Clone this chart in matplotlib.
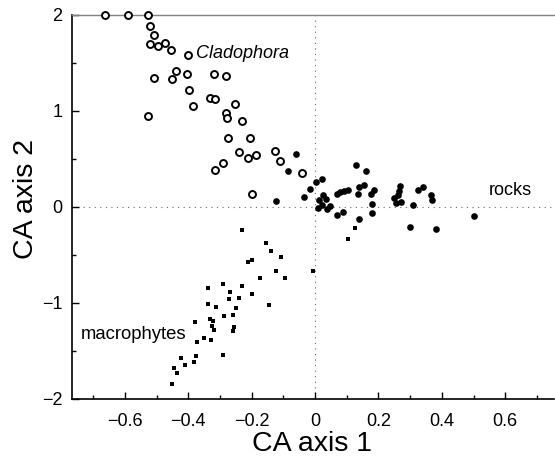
import numpy as np
import matplotlib
matplotlib.use("Agg")
from matplotlib import pyplot as plt
from matplotlib.ticker import MultipleLocator

plt.rcParams['font.family'] = ['Liberation Sans', 'DejaVu Sans']

# Cladophora sites (open circles)
clad_x = [-0.662, -0.59, -0.526, -0.521, -0.508, -0.521, -0.497, -0.472, -0.453, -0.401,
          -0.507, -0.45, -0.44, -0.404, -0.398, -0.384, -0.32, -0.282, -0.331, -0.316,
          -0.527, -0.282, -0.279, -0.253, -0.231, -0.274, -0.205, -0.241, -0.213, -0.185,
          -0.292, -0.317, -0.125, -0.112, -0.04, -0.199]
clad_y = [2.0, 2.0, 2.0, 1.88, 1.79, 1.70, 1.68, 1.71, 1.64, 1.585,
          1.34, 1.33, 1.42, 1.38, 1.22, 1.05, 1.39, 1.36, 1.13, 1.12,
          0.95, 0.98, 0.93, 1.07, 0.90, 0.72, 0.72, 0.57, 0.51, 0.54,
          0.46, 0.39, 0.58, 0.48, 0.355, 0.14]

# rock sites (filled circles)
rock_x = [-0.059, -0.085, -0.122, 0.13, 0.16, 0.003, 0.021, -0.016, -0.034,
          0.026, 0.013, 0.034, 0.047, 0.021, 0.01, 0.038,
          0.068, 0.08, 0.09, 0.104, 0.068, 0.088,
          0.14, 0.156, 0.135, 0.1875, 0.177, 0.18, 0.18, 0.14,
          0.268, 0.266, 0.263, 0.25, 0.255, 0.271,
          0.31, 0.326, 0.341, 0.367, 0.368, 0.299, 0.383, 0.50]
rock_y = [0.556, 0.37, 0.06, 0.435, 0.376, 0.262, 0.287, 0.183, 0.107,
          0.124, 0.07, 0.08, 0.013, 0.02, -0.007, -0.024,
          0.14, 0.16, 0.17, 0.18, -0.083, -0.049,
          0.21, 0.228, 0.14, 0.176, 0.14, 0.031, -0.059, -0.128,
          0.218, 0.169, 0.124, 0.09, 0.045, 0.055,
          0.021, 0.176, 0.204, 0.124, 0.07, -0.21, -0.231, -0.093]

# macrophyte sites (small squares)
macro_x = [-0.229, -0.155, -0.1375, -0.109, -0.213, -0.199, -0.123, -0.096, -0.174,
           -0.005, 0.105, 0.125,
           -0.29, -0.269, -0.27, -0.231, -0.24, -0.2, -0.248, -0.26, -0.286,
           -0.338, -0.338, -0.3125, -0.333, -0.323, -0.326, -0.32,
           -0.257, -0.26, -0.144, -0.38, -0.373, -0.351, -0.327,
           -0.29, -0.424, -0.377, -0.381, -0.41, -0.444, -0.435, -0.45]
macro_y = [-0.24, -0.38, -0.456, -0.525, -0.577, -0.55, -0.67, -0.736, -0.736,
           -0.663, -0.335, -0.22,
           -0.80, -0.89, -0.957, -0.82, -0.946, -0.91, -1.057, -1.12, -1.14,
           -0.84, -1.01, -1.04, -1.17, -1.19, -1.24, -1.28,
           -1.247, -1.29, -1.026, -1.195, -1.406, -1.36, -1.385,
           -1.537, -1.575, -1.554, -1.61, -1.65, -1.68, -1.73, -1.84]

fig = plt.figure(figsize=(5.55, 4.62), dpi=100)
ax = fig.add_axes([0.1297, 0.1364, 0.8685, 0.8312])

ax.axvline(0, color="0.4", lw=0.8, ls=(0, (1, 4)), zorder=0)
ax.axhline(0, color="0.4", lw=0.8, ls=(0, (1, 4)), zorder=0)

ax.plot(clad_x, clad_y, "o", ms=5.0, mfc="white", mec="black", mew=1.4, clip_on=False, zorder=3)
ax.plot(rock_x, rock_y, "o", ms=4.8, mfc="black", mec="black", mew=0, zorder=3)
ax.plot(macro_x, macro_y, "s", ms=2.4, mfc="black", mec="black", mew=0, zorder=3)

ax.text(-0.377, 1.6, "Cladophora", style="italic", fontsize=13, va="center", ha="left")
ax.text(0.547, 0.17, "rocks", fontsize=13, va="center", ha="left")
ax.text(-0.74, -1.33, "macrophytes", fontsize=13.3, va="center", ha="left")

ax.set_xlim(-0.767, 0.754)
ax.set_ylim(-2, 2)
ax.xaxis.set_minor_locator(MultipleLocator(0.1))
ax.yaxis.set_minor_locator(MultipleLocator(0.5))
ax.set_xticks([-0.6, -0.4, -0.2, 0, 0.2, 0.4, 0.6])
ax.set_xticklabels(["\u22120.6", "\u22120.4", "\u22120.2", "0", "0.2", "0.4", "0.6"])
ax.set_yticks([-2, -1, 0, 1, 2])
ax.set_yticklabels(["\u22122", "\u22121", "0", "1", "2"])
ax.tick_params(which="both", direction="in", labelsize=13, width=1.0, top=False, right=False)
ax.tick_params(which="major", length=5)
ax.tick_params(which="minor", length=3)
ax.tick_params(axis="y", pad=7)
ax.tick_params(axis="x", pad=10)

ax.spines["right"].set_visible(False)
ax.spines["top"].set_color("0.5")
ax.spines["top"].set_linewidth(1.0)
ax.spines["left"].set_linewidth(1.2)
ax.spines["bottom"].set_linewidth(1.2)

ax.set_xlabel("CA axis 1", fontsize=20.5)
ax.set_ylabel("CA axis 2", fontsize=20.5)
ax.xaxis.set_label_coords(0.498, -0.084)
ax.yaxis.set_label_coords(-0.068, 0.52)

fig.savefig("out.png", dpi=100)
